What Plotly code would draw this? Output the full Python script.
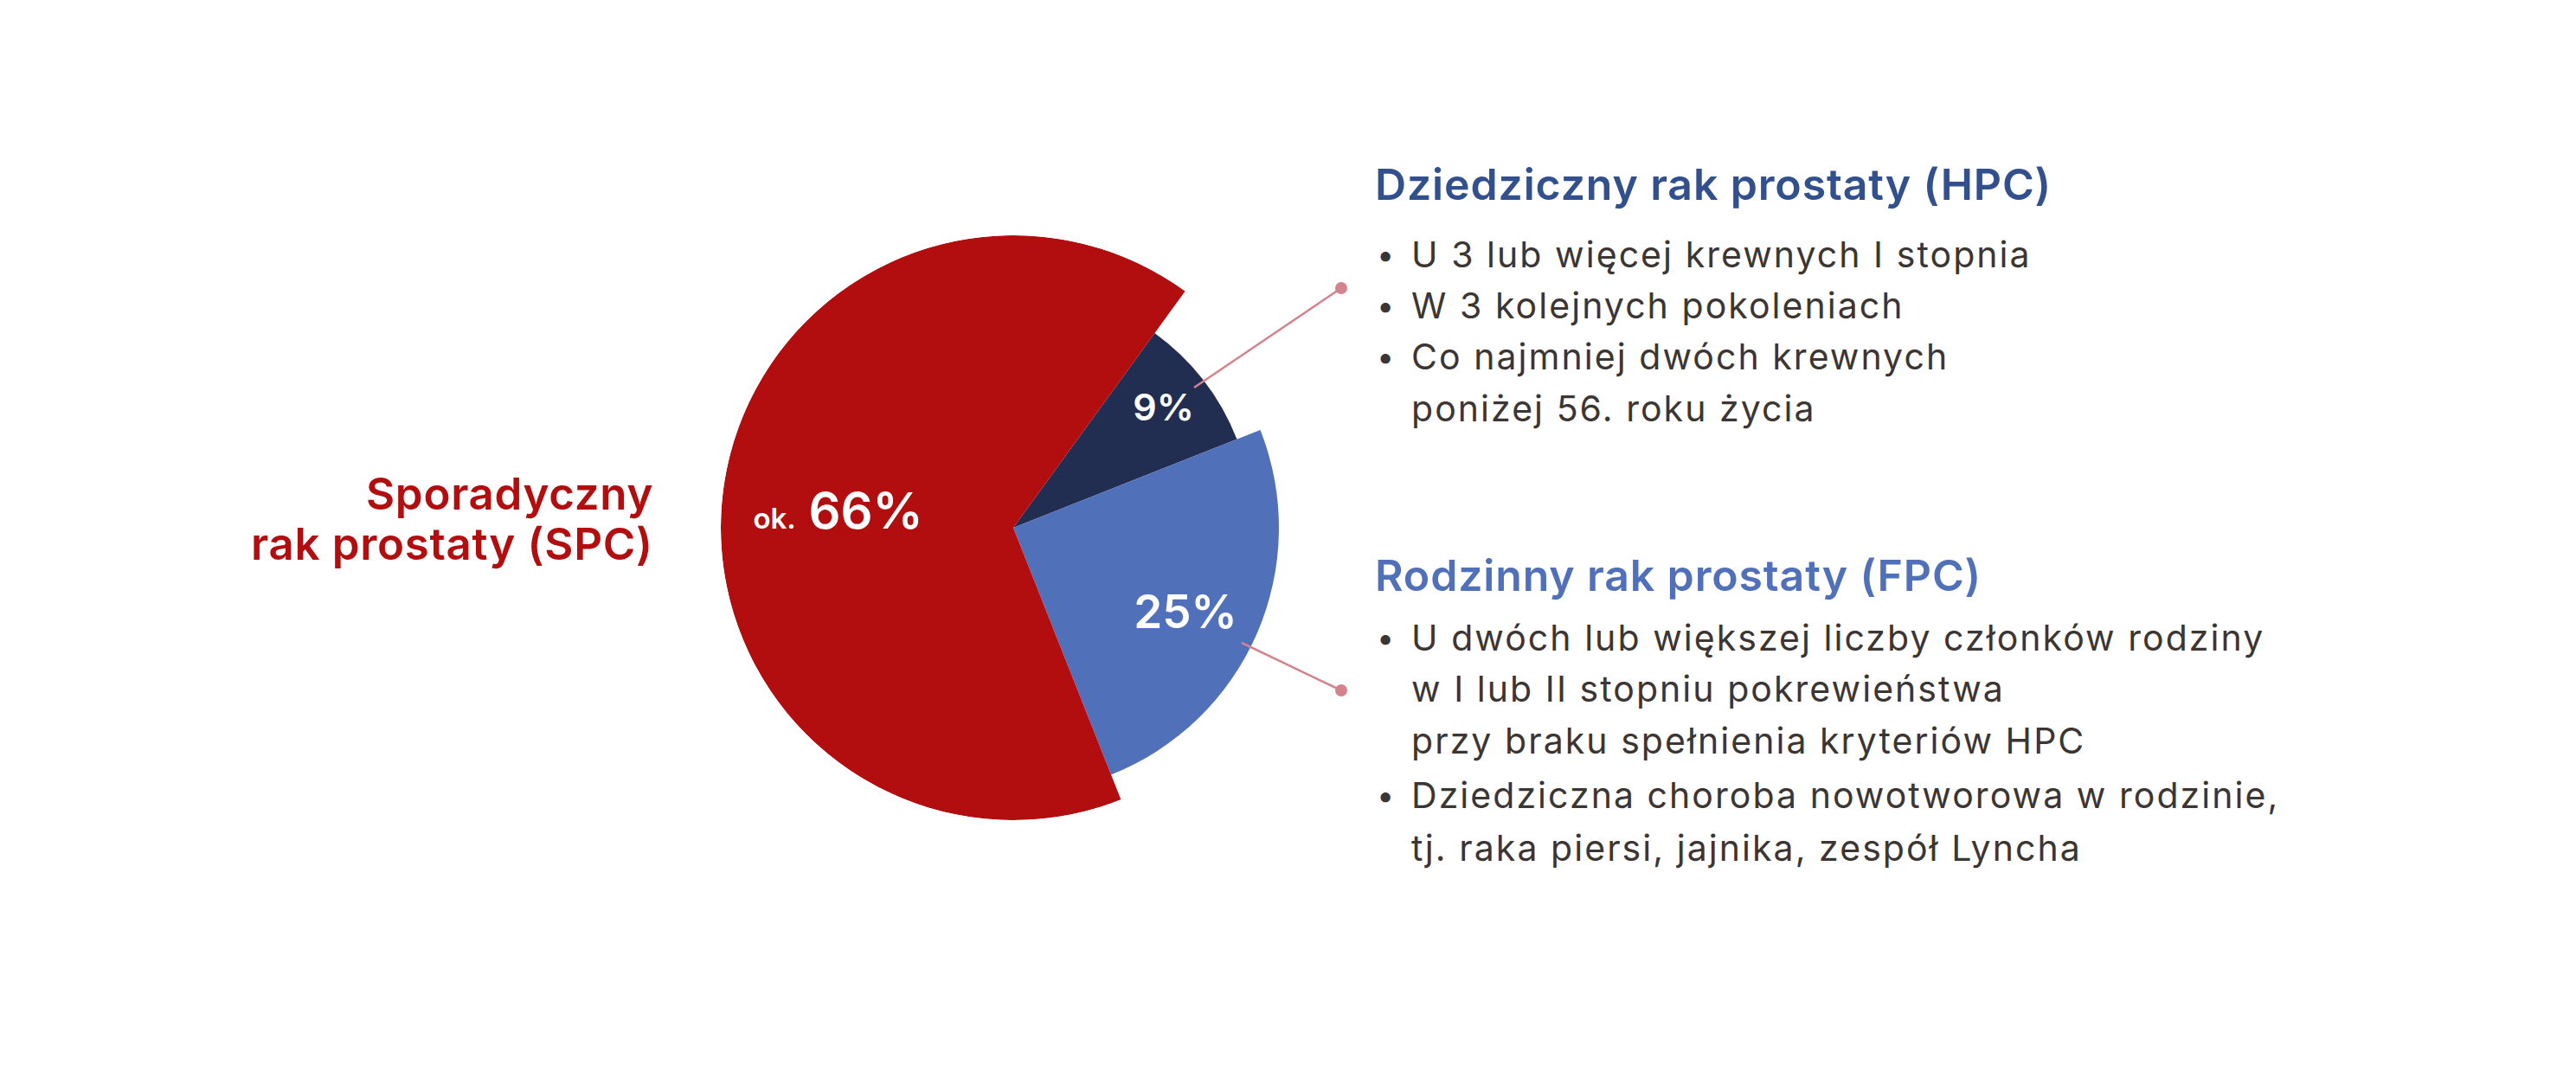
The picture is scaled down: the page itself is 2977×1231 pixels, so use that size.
import plotly.graph_objects as go

# ---------------- data ----------------
categories = ["Dziedziczny rak prostaty (HPC)", "Rodzinny rak prostaty (FPC)", "Sporadyczny rak prostaty (SPC)"]
values = [9, 25, 66]
value_labels = ["9%", "25%", "66%"]
slice_colors = ["#212E52", "#5170BA", "#B20E10"]

hpc_title = "Dziedziczny rak prostaty (HPC)"
hpc_lines = [
    ("•", "U 3 lub więcej krewnych I stopnia"),
    ("•", "W 3 kolejnych pokoleniach"),
    ("•", "Co najmniej dwóch krewnych"),
    ("", "poniżej 56. roku życia"),
]
fpc_title = "Rodzinny rak prostaty (FPC)"
fpc_lines = [
    ("•", "U dwóch lub większej liczby członków rodziny"),
    ("", "w I lub II stopniu pokrewieństwa"),
    ("", "przy braku spełnienia kryteriów HPC"),
    ("•", "Dziedziczna choroba nowotworowa w rodzinie,"),
    ("", "tj. raka piersi, jajnika, zespół Lyncha"),
]
spc_label = ["Sporadyczny", "rak prostaty (SPC)"]

# ---------------- style / geometry ----------------
W, H = 2977, 1231
FONT = "Inter, Open Sans, sans-serif"
slice_radius = [278, 307, 338]          # visual radius of each wedge (px)
R_MAX = 338
CX, CY = 1171, 610                       # pie centre in pixels
label_r_frac = [0.79, 0.73, 0.60]
TEXT_DARK = "#3B3533"
LINE_COL = "#D4838D"
BODY_SIZE = 41
TITLE_SIZE = 50
BODY_TRACK = 2.05
TITLE_TRACK = 0.85
SPC_TRACK = 0.7

def px(x, y):
    return x / W, 1 - y / H

def tracked(text, spacing):
    return f"<span style='letter-spacing:{spacing}px'>{text}</span>"

# angular layout from the values
total = sum(values)
widths = [v / total * 360 for v in values]
centers = []
acc = 0
for w in widths:
    centers.append(acc + w / 2)
    acc += w

fig = go.Figure()
fig.add_trace(go.Barpolar(
    r=slice_radius,
    theta=centers,
    width=widths,
    marker=dict(color=slice_colors, line=dict(width=0)),
    hoverinfo="skip",
    showlegend=False,
))

label_texts = [
    value_labels[0],
    value_labels[1],
    "<span style='font-size:33px'>ok.</span> " + value_labels[2],
]
label_sizes = [43, 53, 58]
fig.add_trace(go.Scatterpolar(
    r=[slice_radius[i] * label_r_frac[i] for i in range(3)],
    theta=[centers[0], centers[1] + 4, centers[2] - 3.5],
    mode="text",
    text=label_texts,
    textfont=dict(family=FONT, size=label_sizes, color="white", weight=600),
    textposition="middle center",
    hoverinfo="skip",
    showlegend=False,
))

x0, y1 = px(CX - R_MAX, CY - R_MAX)
x1, y0 = px(CX + R_MAX, CY + R_MAX)

fig.update_layout(
    width=W, height=H,
    margin=dict(l=0, r=0, t=0, b=0),
    paper_bgcolor="white",
    polar=dict(
        domain=dict(x=[x0, x1], y=[y0, y1]),
        bgcolor="rgba(0,0,0,0)",
        bargap=0,
        angularaxis=dict(visible=False, rotation=54, direction="clockwise"),
        radialaxis=dict(visible=False, range=[0, R_MAX]),
    ),
    showlegend=False,
)

annotations = []
shapes = []

def add_text(x, y, text, size, color, weight=400, xanchor="left"):
    ax, ay = px(x, y)
    annotations.append(dict(
        x=ax, y=ay, xref="paper", yref="paper", text=text, showarrow=False,
        xanchor=xanchor, yanchor="middle",
        font=dict(family=FONT, size=size, color=color, weight=weight),
    ))

# HPC block
add_text(1587, 213, tracked(hpc_title, TITLE_TRACK), TITLE_SIZE, "#33508E", 600)
ys = [294, 353, 412, 472]
for (b, t), y in zip(hpc_lines, ys):
    if b:
        add_text(1589, y, b, 36, TEXT_DARK)
    add_text(1629, y, tracked(t, BODY_TRACK), BODY_SIZE, TEXT_DARK)

# FPC block
add_text(1587, 665, tracked(fpc_title, TITLE_TRACK), TITLE_SIZE, "#5170BA", 600)
ys = [737, 796, 856, 919, 980]
for (b, t), y in zip(fpc_lines, ys):
    if b:
        add_text(1589, y, b, 36, TEXT_DARK)
    add_text(1629, y, tracked(t, BODY_TRACK), BODY_SIZE, TEXT_DARK)

# SPC label (right aligned)
add_text(757, 570, tracked(spc_label[0], SPC_TRACK), 51, "#B20E10", 600, xanchor="right")
add_text(757, 628, tracked(spc_label[1], SPC_TRACK), 51, "#B20E10", 600, xanchor="right")

# connector lines with dots
def connector(xa, ya, xb, yb):
    a = px(xa, ya); b = px(xb, yb)
    shapes.append(dict(type="line", xref="paper", yref="paper",
                       x0=a[0], y0=a[1], x1=b[0], y1=b[1],
                       line=dict(color=LINE_COL, width=2.5)))
    r = 7
    c0 = px(xb - r, yb + r); c1 = px(xb + r, yb - r)
    shapes.append(dict(type="circle", xref="paper", yref="paper",
                       x0=c0[0], y0=c0[1], x1=c1[0], y1=c1[1],
                       fillcolor=LINE_COL, line=dict(width=0)))

connector(1380, 448, 1550, 333)
connector(1435, 743, 1550, 798)

fig.update_layout(annotations=annotations, shapes=shapes)
fig.write_html("out.html")
